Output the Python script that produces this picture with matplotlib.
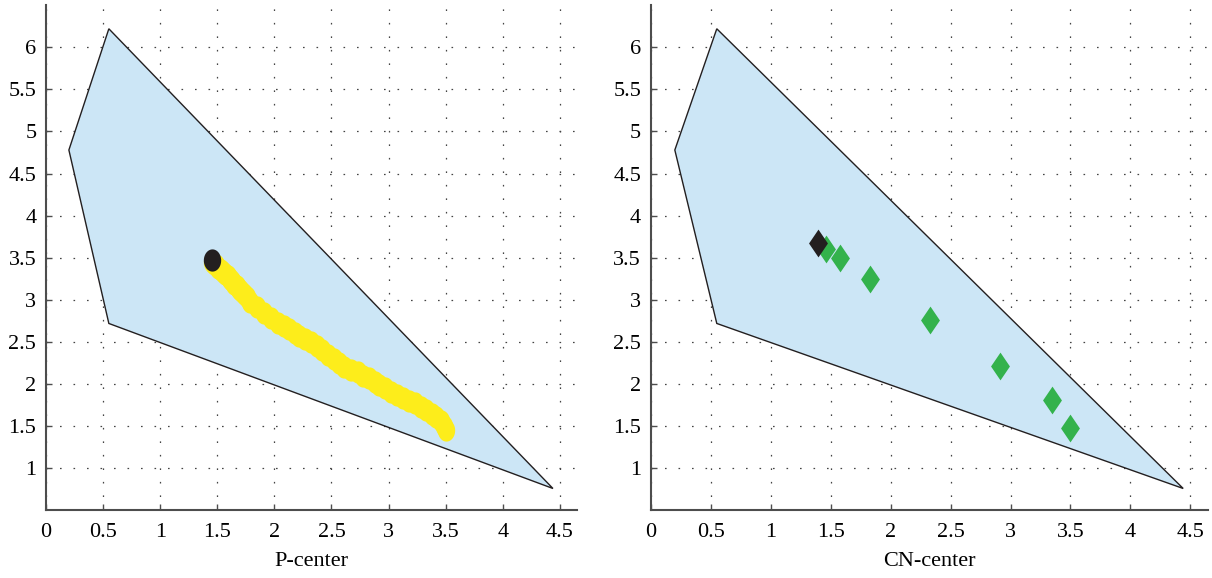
import numpy as np
import matplotlib.pyplot as plt
from matplotlib.path import Path

plt.rcParams['font.family'] = ['Liberation Serif', 'DejaVu Serif']

# feasible region (same hull on both panels)
hull_x = [0.55, 0.20, 0.55, 4.44]
hull_y = [6.22, 4.78, 2.72, 0.76]

# P-center iterates (yellow) and starting point (black)
p_x = [1.45, 1.47, 1.49, 1.51, 1.53, 1.55, 1.57, 1.59, 1.61, 1.63, 1.65, 1.67,
       1.69, 1.71, 1.73, 1.76, 1.79, 1.85, 1.91, 1.97, 2.03, 2.08, 2.13, 2.18,
       2.22, 2.27, 2.32, 2.37, 2.42, 2.47, 2.52, 2.57, 2.61, 2.67, 2.73, 2.78,
       2.83, 2.88, 2.92, 2.97, 3.02, 3.07, 3.13, 3.18, 3.23, 3.28, 3.33, 3.38,
       3.42, 3.46, 3.49, 3.50]
p_y = [3.45, 3.43, 3.41, 3.38, 3.36, 3.33, 3.31, 3.28, 3.25, 3.22, 3.19, 3.16,
       3.13, 3.10, 3.07, 3.03, 2.98, 2.91, 2.84, 2.78, 2.72, 2.69, 2.66, 2.61,
       2.57, 2.53, 2.50, 2.45, 2.40, 2.35, 2.30, 2.25, 2.20, 2.17, 2.14, 2.10,
       2.07, 2.03, 1.99, 1.95, 1.91, 1.87, 1.83, 1.80, 1.77, 1.73, 1.69, 1.65,
       1.61, 1.56, 1.50, 1.45]
p_start = (1.45, 3.47)

# CN-center iterates (green) and starting point (black)
cn_x = [1.46, 1.58, 1.83, 2.33, 2.91, 3.35, 3.50]
cn_y = [3.60, 3.50, 3.25, 2.76, 2.21, 1.81, 1.48]
cn_start = (1.39, 3.67)

ticks_x = [0, 0.5, 1, 1.5, 2, 2.5, 3, 3.5, 4, 4.5]
ticks_y = [1, 1.5, 2, 2.5, 3, 3.5, 4, 4.5, 5, 5.5, 6]

# slightly tall ellipse and tall diamond markers
t = np.linspace(0, 2 * np.pi, 60)
ellipse = Path(np.column_stack([0.39 * np.cos(t), 0.5 * np.sin(t)]), closed=True)
diamond = Path([(0, 0.5), (0.34, 0), (0, -0.5), (-0.34, 0), (0, 0.5)], closed=True)

fig = plt.figure(figsize=(12.12, 5.78), dpi=100, facecolor='white')
ax1 = fig.add_axes([0.038, 0.117, 0.438, 0.874])
ax2 = fig.add_axes([0.537, 0.117, 0.46, 0.874])


def style(ax, xlabel):
    ax.fill(hull_x, hull_y, facecolor='#cce6f6', edgecolor='#231f20', lw=1.0, zorder=1)
    ax.set_xlim(0, 4.65)
    ax.set_ylim(0.5, 6.5)
    ax.set_xticks(ticks_x)
    ax.set_xticklabels([f'{v:g}' for v in ticks_x])
    ax.set_yticks(ticks_y)
    ax.set_yticklabels([f'{v:g}' for v in ticks_y])
    ax.set_axisbelow(True)
    ax.grid(True, color='#444444', linestyle=(0, (1.3, 9.5)), linewidth=0.9)
    for s in ['top', 'right']:
        ax.spines[s].set_visible(False)
    for s in ['left', 'bottom']:
        ax.spines[s].set_color('#4d4d4d')
        ax.spines[s].set_linewidth(1.5)
    ax.tick_params(direction='in', length=4, width=1, color='#4d4d4d',
                   labelsize=16, pad=7)
    ax.tick_params(axis='x', pad=9)
    ax.set_xlabel(xlabel, fontsize=16, labelpad=7)


style(ax1, 'P-center')
ax1.plot(p_x, p_y, linestyle='none', marker=ellipse, markersize=16,
         color='#fded1b', markeredgewidth=0, zorder=3)
ax1.plot(*p_start, linestyle='none', marker=ellipse, markersize=16,
         color='#231f20', markeredgewidth=0, zorder=4)

style(ax2, 'CN-center')
ax2.plot(cn_x, cn_y, linestyle='none', marker=diamond, markersize=20,
         color='#33b24c', markeredgewidth=0, zorder=3)
ax2.plot(*cn_start, linestyle='none', marker=diamond, markersize=20,
         color='#231f20', markeredgewidth=0, zorder=4)

fig.savefig('out.png', dpi=100, facecolor='white')
